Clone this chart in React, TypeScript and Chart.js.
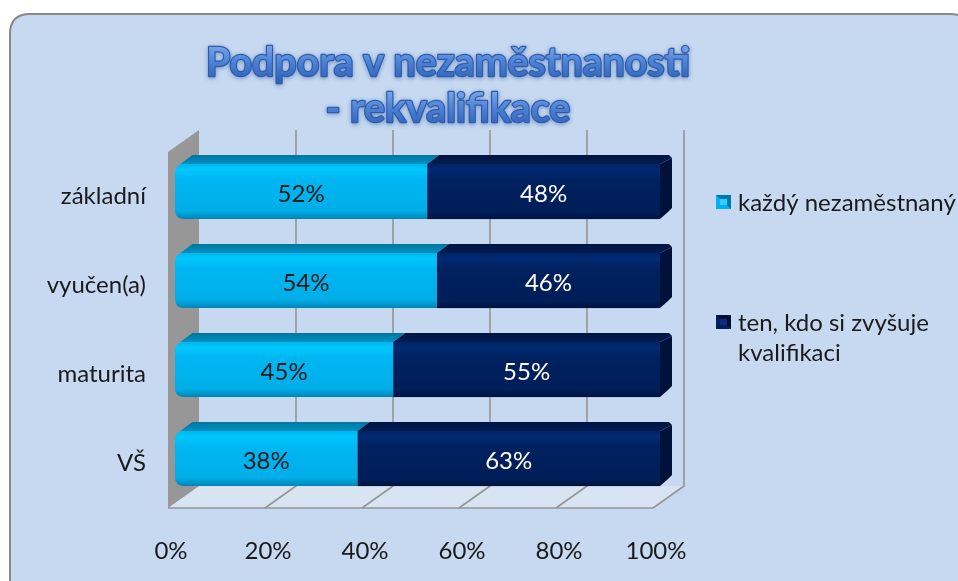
import React, { useEffect, useRef } from 'react';
import { Chart, registerables } from 'chart.js';

Chart.register(...registerables);

const categories = ['základní', 'vyučen(a)', 'maturita', 'VŠ'];
const seriesNames = ['každý nezaměstnaný', 'ten, kdo si zvyšuje kvalifikaci'];
const legendLines = [['každý nezaměstnaný'], ['ten, kdo si zvyšuje', 'kvalifikaci']];
const everyUnemployed = [52, 54, 45, 38];
const upskilling = [48, 46, 55, 63];
const xTickStep = 20;
const titleLines = ['Podpora v nezaměstnanosti', '- rekvalifikace'];

const FONT = 'Lato, "Open Sans", sans-serif';
const TEXT = '#1a1a1a';
const FS = 24;

// 3D geometry (styles)
const BAR_DX = 12, BAR_DY = -9;
const WALL_DX = 31, WALL_DY = -22;
const SHIFT_X = -7, SHIFT_Y = 5;

function poly(ctx: CanvasRenderingContext2D, pts: number[][]) {
  ctx.beginPath();
  ctx.moveTo(pts[0][0], pts[0][1]);
  for (let i = 1; i < pts.length; i++) ctx.lineTo(pts[i][0], pts[i][1]);
  ctx.closePath();
}

const scenePlugin = {
  id: 'scene3d',
  beforeDraw(chart: any) {
    const ctx = chart.ctx as CanvasRenderingContext2D;
    ctx.save();
    ctx.fillStyle = '#ffffff';
    ctx.fillRect(0, 0, chart.width, chart.height);
    const x = 10, y = 14, w = 960, h = 600, r = 20;
    ctx.beginPath();
    ctx.moveTo(x + r, y);
    ctx.lineTo(x + w - r, y);
    ctx.quadraticCurveTo(x + w, y, x + w, y + r);
    ctx.lineTo(x + w, y + h);
    ctx.lineTo(x, y + h);
    ctx.lineTo(x, y + r);
    ctx.quadraticCurveTo(x, y, x + r, y);
    ctx.closePath();
    ctx.fillStyle = '#c6d9f1';
    ctx.fill();
    ctx.lineWidth = 2;
    ctx.strokeStyle = '#888888';
    ctx.stroke();
    ctx.restore();
  },
  beforeDatasetsDraw(chart: any) {
    const ctx = chart.ctx as CanvasRenderingContext2D;
    const { left, right, top, bottom } = chart.chartArea;
    const fl = left + SHIFT_X, fr = right + SHIFT_X, ft = top + SHIFT_Y, fb = bottom + SHIFT_Y;
    const bl = fl + WALL_DX, br = fr + WALL_DX, bt = ft + WALL_DY, bb = fb + WALL_DY;
    ctx.save();
    poly(ctx, [[fl, fb], [fr, fb], [br, bb], [bl, bb]]);
    ctx.fillStyle = '#d9e4f3';
    ctx.fill();
    ctx.strokeStyle = '#959595';
    ctx.lineWidth = 1.6;
    const xs = chart.scales.x;
    for (let v = xTickStep; v <= 100; v += xTickStep) {
      const px = xs.getPixelForValue(v) + SHIFT_X;
      ctx.beginPath();
      ctx.moveTo(px + WALL_DX, bt);
      ctx.lineTo(px + WALL_DX, bb);
      ctx.lineTo(px, fb);
      ctx.stroke();
    }
    ctx.beginPath();
    ctx.moveTo(fl, fb);
    ctx.lineTo(fr, fb);
    ctx.stroke();
    poly(ctx, [[fl, ft], [bl, bt], [bl, bb], [fl, fb]]);
    ctx.fillStyle = '#979797';
    ctx.fill();
    ctx.restore();
  },
  beforeDatasetDraw() {
    return false;
  },
  afterDatasetsDraw(chart: any) {
    const ctx = chart.ctx as CanvasRenderingContext2D;
    const m0 = chart.getDatasetMeta(0).data;
    const m1 = chart.getDatasetMeta(1).data;
    ctx.save();
    for (let i = 0; i < m0.length; i++) {
      const a = m0[i].getProps(['x', 'y', 'base', 'height'], true);
      const b = m1[i].getProps(['x', 'y', 'base', 'height'], true);
      const L = a.base, M = a.x, R = b.x;
      const top = a.y - a.height / 2, bot = a.y + a.height / 2;
      const rr = 9;
      let g = ctx.createLinearGradient(0, top + BAR_DY, 0, top);
      g.addColorStop(0, '#00769f');
      g.addColorStop(1, '#0090c2');
      poly(ctx, [[L + rr * 0.6, top], [L + rr * 0.6 + BAR_DX, top + BAR_DY], [M + BAR_DX, top + BAR_DY], [M, top]]);
      ctx.fillStyle = g;
      ctx.fill();
      g = ctx.createLinearGradient(0, top + BAR_DY, 0, top);
      g.addColorStop(0, '#001540');
      g.addColorStop(1, '#001c52');
      poly(ctx, [[M, top], [M + BAR_DX, top + BAR_DY], [R + BAR_DX - 3, top + BAR_DY], [R + BAR_DX, top + BAR_DY + 3], [R, top]]);
      ctx.fillStyle = g;
      ctx.fill();
      poly(ctx, [[R, top], [R + BAR_DX, top + BAR_DY + 3], [R + BAR_DX, bot + BAR_DY - 2], [R + BAR_DX - 4, bot + BAR_DY + 2], [R, bot]]);
      ctx.fillStyle = '#00123a';
      ctx.fill();
      g = ctx.createLinearGradient(0, top, 0, bot);
      g.addColorStop(0, '#00b6ec');
      g.addColorStop(0.1, '#00c8ff');
      g.addColorStop(0.28, '#00b6f2');
      g.addColorStop(0.85, '#00aee8');
      g.addColorStop(1, '#0084b6');
      ctx.beginPath();
      ctx.moveTo(L + rr, top);
      ctx.lineTo(M, top);
      ctx.lineTo(M, bot);
      ctx.lineTo(L + rr, bot);
      ctx.quadraticCurveTo(L, bot, L, bot - rr);
      ctx.lineTo(L, top + rr);
      ctx.quadraticCurveTo(L, top, L + rr, top);
      ctx.closePath();
      ctx.fillStyle = g;
      ctx.fill();
      g = ctx.createLinearGradient(0, top, 0, bot);
      g.addColorStop(0, '#002466');
      g.addColorStop(0.1, '#002a72');
      g.addColorStop(0.3, '#00215f');
      g.addColorStop(0.88, '#001e58');
      g.addColorStop(1, '#001340');
      ctx.fillStyle = g;
      ctx.fillRect(M, top, R - M, bot - top);
      ctx.font = `${FS}px ${FONT}`;
      ctx.textAlign = 'center';
      ctx.textBaseline = 'middle';
      ctx.fillStyle = TEXT;
      ctx.fillText(everyUnemployed[i] + '%', (L + M) / 2, a.y + 3);
      ctx.fillStyle = '#ffffff';
      ctx.fillText(upskilling[i] + '%', (M + R) / 2, a.y + 3);
    }
    ctx.restore();
  },
  afterDraw(chart: any) {
    const ctx = chart.ctx as CanvasRenderingContext2D;
    ctx.save();
    ctx.font = `bold 32px ${FONT}`;
    const w = ctx.measureText(titleLines[0]).width;
    const size = 32 * 484 / w;
    ctx.font = `bold ${size}px ${FONT}`;
    ctx.textAlign = 'center';
    ctx.textBaseline = 'middle';
    const ys = [63, 109];
    titleLines.forEach((t, k) => {
      const y = ys[k];
      const g = ctx.createLinearGradient(0, y - size * 0.45, 0, y + size * 0.45);
      g.addColorStop(0, '#79a6ea');
      g.addColorStop(0.5, '#4b80d4');
      g.addColorStop(1, '#2f63ba');
      ctx.shadowColor = 'rgba(20,60,140,0.55)';
      ctx.shadowBlur = 4;
      ctx.shadowOffsetY = 1;
      ctx.lineWidth = 2.4;
      ctx.strokeStyle = '#2d5dab';
      ctx.lineJoin = 'round';
      ctx.strokeText(t, 448, y);
      ctx.shadowColor = 'transparent';
      ctx.fillStyle = g;
      ctx.fillText(t, 448, y);
    });
    const markers = [
      { y: 195, edge: '#0079a8', main: '#00b0f0', hi: '#33ccff' },
      { y: 315, edge: '#00102e', main: '#002060', hi: '#0a2f7a' },
    ];
    ctx.font = `${FS}px ${FONT}`;
    ctx.textAlign = 'left';
    ctx.textBaseline = 'middle';
    markers.forEach((mk, k) => {
      ctx.fillStyle = mk.edge;
      ctx.fillRect(716, mk.y, 15, 14);
      ctx.fillStyle = mk.main;
      poly(ctx, [[716, mk.y + 14], [723.5, mk.y + 7], [731, mk.y + 14]]);
      ctx.fill();
      poly(ctx, [[716, mk.y], [723.5, mk.y + 7], [716, mk.y + 14]]);
      ctx.fill();
      ctx.fillStyle = mk.hi;
      ctx.fillRect(720, mk.y + 4, 7, 6);
      ctx.fillStyle = TEXT;
      legendLines[k].forEach((line, j) => {
        ctx.fillText(line, 738, mk.y + 8 + j * 30);
      });
    });
    ctx.restore();
  },
};

export default function App() {
  const ref = useRef<HTMLCanvasElement>(null);
  useEffect(() => {
    const canvas = ref.current;
    if (!canvas) return;
    const totals = everyUnemployed.map((v, i) => v + upskilling[i]);
    const share0 = everyUnemployed.map((v, i) => (v / totals[i]) * 100);
    const share1 = upskilling.map((v, i) => (v / totals[i]) * 100);
    const chart = new Chart(canvas, {
      type: 'bar',
      data: {
        labels: categories,
        datasets: [
          { label: seriesNames[0], data: share0, backgroundColor: '#00b0f0', borderWidth: 0, barPercentage: 0.62, categoryPercentage: 1 },
          { label: seriesNames[1], data: share1, backgroundColor: '#002060', borderWidth: 0, barPercentage: 0.62, categoryPercentage: 1 },
        ],
      },
      options: {
        indexAxis: 'y',
        responsive: false,
        animation: false,
        layout: { padding: { left: 0, right: 298, top: 147, bottom: 0 } },
        scales: {
          x: {
            stacked: true,
            min: 0,
            max: 100,
            ticks: {
              stepSize: xTickStep,
              callback: (v: any) => v + '%',
              font: { family: FONT, size: FS },
              color: TEXT,
              padding: 34,
              labelOffset: -4,
            },
            grid: { display: false, drawTicks: false },
            border: { display: false },
            afterFit: (s: any) => { s.height = 78; },
          },
          y: {
            stacked: true,
            ticks: {
              font: { family: FONT, size: FS },
              color: TEXT,
              padding: 29,
              labelOffset: 5,
            },
            grid: { display: false, drawTicks: false },
            border: { display: false },
            afterFit: (s: any) => { s.width = 175; },
          },
        },
        plugins: {
          legend: { display: false },
          title: { display: false },
          tooltip: { enabled: false },
        },
      },
      plugins: [scenePlugin],
    } as any);
    return () => chart.destroy();
  }, []);
  return (
    <div style={{ position: 'fixed', left: 0, top: 0, width: 958, height: 581, overflow: 'hidden', background: '#fff' }}>
      <canvas ref={ref} width={958} height={581} style={{ display: 'block', width: 958, height: 581 }} />
    </div>
  );
}
